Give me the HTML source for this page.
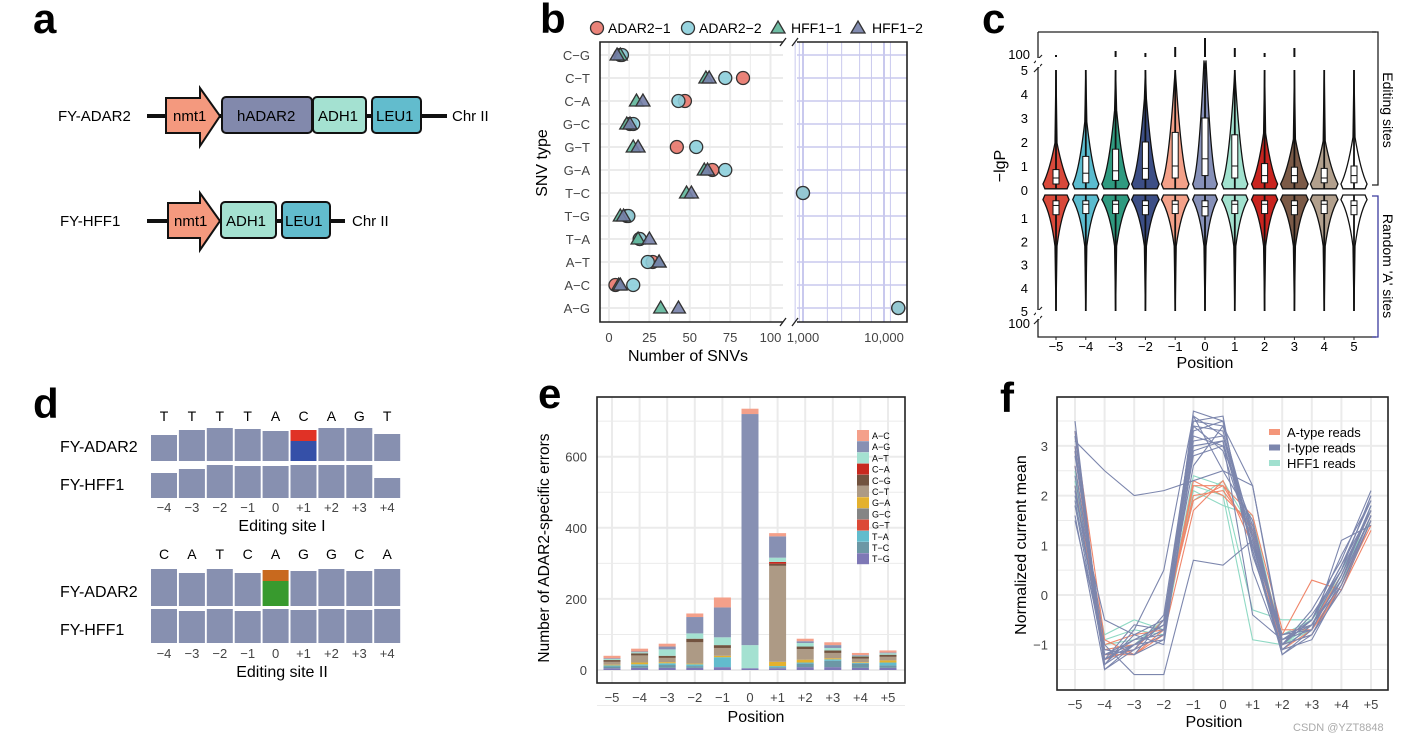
<!DOCTYPE html>
<html><head><meta charset="utf-8"><style>
html,body{margin:0;padding:0;background:#fff;}
svg{display:block;font-family:"Liberation Sans",Arial,sans-serif;}
</style></head><body>
<svg id="fig" width="1409" height="741" viewBox="0 0 1409 741" xmlns="http://www.w3.org/2000/svg">
<g>
<text x="33" y="33" font-size="42" font-weight="bold">a</text>
<text x="58" y="121" font-size="15">FY-ADAR2</text>
<line x1="147" y1="116" x2="447" y2="116" stroke="#111" stroke-width="4"/>
<polygon points="166,98 200,98 200,88 220,116 200,146 200,133 166,133" fill="#f4997e" stroke="#111" stroke-width="2"/>
<text x="173" y="121" font-size="15">nmt1</text>
<rect x="222" y="97" width="90" height="36" rx="4" fill="#8289ac" stroke="#111" stroke-width="2"/>
<text x="237" y="121" font-size="15">hADAR2</text>
<rect x="313" y="97" width="53" height="36" rx="4" fill="#a4e1d1" stroke="#111" stroke-width="2"/>
<text x="318" y="121" font-size="15">ADH1</text>
<rect x="372" y="97" width="49" height="36" rx="4" fill="#62bccd" stroke="#111" stroke-width="2"/>
<text x="376" y="121" font-size="15">LEU1</text>
<text x="452" y="121" font-size="15">Chr II</text>
<text x="60" y="226" font-size="15">FY-HFF1</text>
<line x1="147" y1="221" x2="345" y2="221" stroke="#111" stroke-width="4"/>
<polygon points="168,203 200,203 200,193 220,221 200,250 200,238 168,238" fill="#f4997e" stroke="#111" stroke-width="2"/>
<text x="174" y="226" font-size="15">nmt1</text>
<rect x="221" y="202" width="55" height="36" rx="4" fill="#a4e1d1" stroke="#111" stroke-width="2"/>
<text x="226" y="226" font-size="15">ADH1</text>
<rect x="282" y="202" width="48" height="36" rx="4" fill="#62bccd" stroke="#111" stroke-width="2"/>
<text x="285" y="226" font-size="15">LEU1</text>
<text x="352" y="226" font-size="15">Chr II</text>
</g>
<text x="33" y="418" font-size="42" font-weight="bold">d</text>
<text x="540" y="33" font-size="42" font-weight="bold">b</text>
<text x="982" y="33" font-size="42" font-weight="bold">c</text>
<text x="538" y="408" font-size="42" font-weight="bold">e</text>
<text x="1000" y="412" font-size="42" font-weight="bold">f</text>
</svg>
<script>
const svg=document.getElementById('fig');
const NS='http://www.w3.org/2000/svg';
function mk(tag,at,p){const e=document.createElementNS(NS,tag);for(const k in at)e.setAttribute(k,at[k]);(p||svg).appendChild(e);return e;}
function tx(x,y,s,fs,at,p){const e=mk('text',Object.assign({x:x,y:y,'font-size':fs},at||{}),p);e.textContent=s;return e;}

/* ===== panel d data ===== */
const dSite1Letters=['T','T','T','T','A','C','A','G','T'];
const dSite2Letters=['C','A','T','C','A','G','G','C','A'];
const dPositions=['−4','−3','−2','−1','0','+1','+2','+3','+4'];
const dSite1Adar=[26,31,33,32,30,31,33,33,27];
const dSite1Hff=[25,29,33,32,32,33,33,33,20];
const dSite2Adar=[37,33,37,33,36,35,37,35,37];
const dSite2Hff=[34,32,34,32,34,33,34,33,34];
(function(){
 const g=mk('g',{});
 
 
 const cx=i=>151+i*27.9;
 function row(vals,bottom,name,special){
  vals.forEach((v,i)=>{
   if(special&&special.i===i){
    const a=mk('rect',{x:cx(i),y:bottom-v,width:26,height:11,fill:special.c1},g);
    
    
    const b=mk('rect',{x:cx(i),y:bottom-v+11,width:26,height:v-11,fill:special.c2},g);
    
    
   }else{
    const r=mk('rect',{x:cx(i),y:bottom-v,width:26,height:v,fill:'#8790b0'},g);
    
    
   }
  });
 }
 function block(letters,adar,hff,yL,bA,bH,yT,title,sp){
  letters.forEach((l,i)=>{const t=tx(cx(i)+13,yL,l,14,{'text-anchor':'middle'},g);
   
   });
  row(adar,bA,'adar2-signal',sp);row(hff,bH,'hff1-signal',null);
  dPositions.forEach((p,i)=>{const t=tx(cx(i)+13,yT,p,13,{'text-anchor':'middle',fill:'#444'},g);
   
   });
  const a=tx(60,bA-9,'FY-ADAR2',16,{},g);
  
  
  const h=tx(60,bH-8,'FY-HFF1',16,{},g);
  
  
  const tt=tx(282,yT+19,title,16,{'text-anchor':'middle'},g);
  
  
 }
 block(dSite1Letters,dSite1Adar,dSite1Hff,421,461,498,512,'Editing site I',{i:5,c1:'#e03226',c2:'#3550a8'});
 block(dSite2Letters,dSite2Adar,dSite2Hff,559,606,643,658,'Editing site II',{i:4,c1:'#c8691e',c2:'#389a2e'});
})();

/* ===== panel b data ===== */
const bCategories=['C−G','C−T','C−A','G−C','G−T','G−A','T−C','T−G','T−A','A−T','A−C','A−G'];
const bAdar1=[7,83,47,13,42,64,1000,11,19,27,4,15000];
const bAdar2=[8,72,43,15,54,72,1000,12,19,24,15,15000];
const bHff1=[7,60,17,11,15,59,48,7,18,31,6,32];
const bHff2=[5,62,21,13,18,61,51,9,25,31,7,43];
const bTicksLin=[0,25,50,75,100];
const bTicksLog=[1000,10000];
(function(){
 const g=mk('g',{});
 
 
 const L0=600,L1=783,R0=797,R1=907,T=42,B=322;
 const xl=v=>609+v*1.615;
 const xr=v=>803+(Math.log10(v)-3)*81;
 const X=v=>v>100?xr(v):xl(v);
 const Y=i=>55+i*23;
 mk('rect',{x:L0,y:T,width:L1-L0,height:B-T,fill:'#fff'},g);
 for(let v=0;v<=100;v+=12.5){const l=mk('line',{x1:xl(v),x2:xl(v),y1:T,y2:B,stroke:'#ebebeb','stroke-width':v%25==0?2:1},g);
  
  }
 bCategories.forEach((c,i)=>{const l=mk('line',{x1:L0,x2:L1,y1:Y(i),y2:Y(i),stroke:'#ebebeb','stroke-width':2},g);
  
  
  const l2=mk('line',{x1:R0,x2:R1,y1:Y(i),y2:Y(i),stroke:'#c9c9ee','stroke-width':1.5},g);
  
  
  const t=tx(590,Y(i)+5,c,13,{'text-anchor':'end',fill:'#444'},g);
  
  });
 [800,900,1000,2000,3000,5000,7000,10000,12000].forEach(v=>{const l=mk('line',{x1:xr(v),x2:xr(v),y1:T,y2:B,stroke:'#c9c9ee','stroke-width':v==1000||v==10000?2:1},g);
  
  });
 const frame=mk('path',{d:`M${L1},${T} L${L0},${T} L${L0},${B} L${L1},${B} M${R0},${T} L${R1},${T} L${R1},${B} L${R0},${B}`,fill:'none',stroke:'#222','stroke-width':1.6},g);
 
 
 const brk=mk('path',{d:`M780,${T+4} l6,-8 M792,${T+4} l6,-8 M780,${B+4} l6,-8 M792,${B+4} l6,-8`,stroke:'#222','stroke-width':1.3},g);
 
 
 bTicksLin.forEach(v=>{const t=tx(xl(v),342,String(v),13,{'text-anchor':'middle',fill:'#444'},g);
  
  });
 bTicksLog.forEach(v=>{const t=tx(xr(v),342,v.toLocaleString('en-US'),13,{'text-anchor':'middle',fill:'#444'},g);
  
  });
 const xt=tx(688,361,'Number of SNVs',16,{'text-anchor':'middle'},g);
 
 
 const yt=tx(0,0,'SNV type',16,{'text-anchor':'middle',transform:'translate(547,163) rotate(-90)'},g);
 
 
 function circ(x,y,c,p){return mk('circle',{cx:x,cy:y,r:6.5,fill:c,stroke:'#333','stroke-width':1.3,'fill-opacity':0.9},p);}
 function tri(x,y,c,p){return mk('polygon',{points:`${x},${y-7} ${x+7},${y+5} ${x-7},${y+5}`,fill:c,stroke:'#333','stroke-width':1.3,'fill-opacity':0.9},p);}
 bCategories.forEach((c,i)=>{
  let e=circ(X(bAdar1[i]),Y(i),'#e8766a',g);
  
  
  e=circ(X(bAdar2[i]),Y(i),'#8ccfdc',g);
  
  
  e=tri(X(bHff1[i]),Y(i),'#5fb69a',g);
  
  
  e=tri(X(bHff2[i]),Y(i),'#7580a8',g);
  
  
 });
 let e=circ(597,28,'#e8766a',g);
 
 
 e=tx(608,33,'ADAR2−1',14,{},g);
 
 
 e=circ(688,28,'#8ccfdc',g);
 
 
 e=tx(699,33,'ADAR2−2',14,{},g);
 
 
 e=tri(778,28,'#5fb69a',g);
 
 
 e=tx(791,33,'HFF1−1',14,{},g);
 
 
 e=tri(858,28,'#7580a8',g);
 
 
 e=tx(872,33,'HFF1−2',14,{},g);
 
 
})();

/* ===== panel c data ===== */
const cPositions=['−5','−4','−3','−2','−1','0','1','2','3','4','5'];
const cColors=['#d9493a','#5bbccf','#2f9a80','#3c4e85','#f4a189','#8690b8','#a2e2cf','#c9241f','#7b5a47','#b2a08d','#ffffff'];
const cUpperMedian=[0.5,0.7,0.8,0.9,1.0,1.3,1.0,0.6,0.6,0.5,0.6];
const cUpperQ1=[0.25,0.3,0.4,0.45,0.5,0.6,0.5,0.3,0.3,0.3,0.3];
const cUpperQ3=[0.85,1.4,1.7,2.0,2.4,3.0,2.3,1.1,0.95,0.9,1.0];
const cUpperWidth=[0.9,0.9,0.95,0.95,0.95,0.85,0.9,0.9,0.95,0.95,0.9];
const cSpike=[2,0,6,4,10,19,9,4,9,0,0];
const cLowerQ1=[0.25,0.25,0.25,0.25,0.25,0.25,0.25,0.25,0.25,0.25,0.25];
const cLowerMedian=[0.45,0.4,0.4,0.45,0.4,0.5,0.4,0.4,0.45,0.4,0.45];
const cLowerQ3=[0.85,0.8,0.8,0.85,0.8,0.9,0.8,0.8,0.85,0.8,0.85];
(function(){
 const g=mk('g',{});
 
 
 const X=i=>1056+i*29.8;
 const YU=v=>190-v*24;
 const YL=v=>195+v*23.2;
 const fr=mk('path',{d:'M1038,32 L1038,337 L1376,337',fill:'none',stroke:'#222','stroke-width':1.3},g);
 
 
 const top=mk('line',{x1:1038,x2:1376,y1:32,y2:32,stroke:'#222','stroke-width':1.3},g);
 
 
 const brk=mk('path',{d:'M1034,63 l8,-8 M1034,72 l8,-8 M1034,315 l8,-8 M1034,324 l8,-8',stroke:'#222','stroke-width':1.2,fill:'none'},g);
 
 
 const bg1=mk('rect',{x:1036,y:58,width:4,height:9,fill:'#fff'},g);
 
 
 const bg2=mk('rect',{x:1036,y:310,width:4,height:9,fill:'#fff'},g);
 
 
 [0,1,2,3,4,5].forEach(v=>{let t=tx(1028,YU(v)+5,String(v),13,{'text-anchor':'end'},g);
  
  
  if(v>0){t=tx(1028,YL(v)+5,String(v),13,{'text-anchor':'end'},g);
  
  }});
 let t=tx(1030,59,'100',13,{'text-anchor':'end'},g);
 
 
 t=tx(1030,328,'100',13,{'text-anchor':'end'},g);
 
 
 t=tx(0,0,'−lgP',16,{'text-anchor':'middle',transform:'translate(1005,166) rotate(-90)'},g);
 
 
 cPositions.forEach((p,i)=>{
  const x=X(i),c=cColors[i];
  const tk=tx(x,351,p,13,{'text-anchor':'middle'},g);
  
  
  const tm=mk('line',{x1:x,x2:x,y1:337,y2:340,stroke:'#222'},g);
  
  
  const w=14.5*cUpperWidth[i], q3=cUpperQ3[i];
  const wTop=YU(q3*1.6+0.6);
  const d=`M${x},${YU(5)} L${x+1},${wTop} Q${x+w*0.5},${YU(0.8)} ${x+w},${YU(0.25)} L${x+w*0.85},${YU(0.05)} L${x-w*0.85},${YU(0.05)} L${x-w},${YU(0.25)} Q${x-w*0.5},${YU(0.8)} ${x-1},${wTop} Z`;
  const v=mk('path',{d:d,fill:c,stroke:'#111','stroke-width':1.3},g);
  
  
  const ln=mk('line',{x1:x,x2:x,y1:YU(5),y2:YU(0.05),stroke:'#111','stroke-width':1.8},g);
  
  
  const bx=mk('rect',{x:x-3,y:YU(cUpperQ3[i]),width:6,height:YU(cUpperQ1[i])-YU(cUpperQ3[i]),fill:'#fff',stroke:'#111','stroke-width':1},g);
  
  
  const md=mk('line',{x1:x-3,x2:x+3,y1:YU(cUpperMedian[i]),y2:YU(cUpperMedian[i]),stroke:'#111'},g);
  
  
  if(cSpike[i]>0){const sp=mk('line',{x1:x,x2:x,y1:57-cSpike[i]*1.0,y2:57,stroke:'#111','stroke-width':2},g);
   
   }
  const d2=`M${x-w*0.85},${YL(0)} L${x+w*0.85},${YL(0)} L${x+w},${YL(0.2)} Q${x+w*0.4},${YL(0.8)} ${x+1},${YL(2.2)} L${x},${YL(5)} L${x-1},${YL(2.2)} Q${x-w*0.4},${YL(0.8)} ${x-w},${YL(0.2)} Z`;
  const v2=mk('path',{d:d2,fill:c,stroke:'#111','stroke-width':1.3},g);
  
  
  const ln2=mk('line',{x1:x,x2:x,y1:YL(0),y2:YL(5),stroke:'#111','stroke-width':1.8},g);
  
  
  const bx2=mk('rect',{x:x-3,y:YL(cLowerQ1[i]),width:6,height:YL(cLowerQ3[i])-YL(cLowerQ1[i]),fill:'#fff',stroke:'#111','stroke-width':1},g);
  
  
  const md2=mk('line',{x1:x-3,x2:x+3,y1:YL(cLowerMedian[i]),y2:YL(cLowerMedian[i]),stroke:'#111'},g);
  
  
 });
 t=tx(1205,368,'Position',16,{'text-anchor':'middle'},g);
 
 
 let b=mk('path',{d:'M1372,32 L1378,32 L1378,185 L1372,185',fill:'none',stroke:'#222','stroke-width':1.3},g);
 
 
 b=mk('path',{d:'M1372,196 L1378,196 L1378,337 L1372,337',fill:'none',stroke:'#3b3b9e','stroke-width':1.3},g);
 
 
 t=tx(0,0,'Editing sites',14,{'text-anchor':'middle',transform:'translate(1383,110) rotate(90)'},g);
 
 
 t=tx(0,0,"Random 'A' sites",14,{'text-anchor':'middle',transform:'translate(1383,266) rotate(90)'},g);
 
 
})();

/* ===== panel e data ===== */
const ePositions=['−5','−4','−3','−2','−1','0','+1','+2','+3','+4','+5'];
const eTypes=['A−C','A−G','A−T','C−A','C−G','C−T','G−A','G−C','G−T','T−A','T−C','T−G'];
const eColors=['#f4a08a','#8790b3','#a4e1d1','#c8291f','#72533f','#ad9a85','#e4b12e','#858585','#dc4a37','#62bccd','#6c97a5','#7e78b6'];
const eAC=[7,8,8,10,28,15,9,7,8,6,6];
const eAG=[2,2,8,46,84,650,60,5,8,2,2];
const eAT=[3,3,18,15,22,65,12,10,7,2,4];
const eCA=[0,0,0,0,0,0,5,0,0,0,0];
const eCG=[5,6,6,10,8,0,6,7,7,6,6];
const eCT=[8,20,12,60,22,0,270,30,15,10,10];
const eGA=[2,5,3,2,4,0,12,8,3,2,6];
const eGC=[0,0,0,0,0,0,0,0,0,0,0];
const eGT=[0,0,0,0,0,0,0,0,0,0,0];
const eTA=[3,4,5,5,28,0,3,3,4,2,8];
const eTC=[5,6,8,5,0,0,3,10,18,12,7];
const eTG=[5,6,6,6,8,5,5,8,8,6,6];
const eTicks=[0,200,400,600];
(function(){
 const series=[eAC,eAG,eAT,eCA,eCG,eCT,eGA,eGC,eGT,eTA,eTC,eTG];
 const g=mk('g',{});
 
 
 const X=i=>612+i*27.6, Y=v=>670-v*0.3555;
 for(let v=-100;v<=700;v+=100){const l=mk('line',{x1:597,x2:905,y1:Y(v),y2:Y(v),stroke:'#ebebeb','stroke-width':v%200==0?2:1},g);
  
  }
 ePositions.forEach((p,i)=>{const l=mk('line',{x1:X(i),x2:X(i),y1:397,y2:683,stroke:'#ebebeb','stroke-width':2},g);
  
  
  const t=tx(X(i),702,p,13,{'text-anchor':'middle',fill:'#444'},g);
  
  });
 ePositions.forEach((p,i)=>{
  let base=0;
  for(let k=series.length-1;k>=0;k--){
   const v=series[k][i]; if(!v) continue;
   const r=mk('rect',{x:X(i)-8.5,y:Y(base+v),width:17,height:Y(base)-Y(base+v),fill:eColors[k]},g);
   
   
   base+=v;
  }
 });
 const fr=mk('rect',{x:597,y:397,width:308,height:286,fill:'none',stroke:'#222','stroke-width':1.6},g);
 
 
 eTicks.forEach(v=>{const t=tx(587,Y(v)+5,String(v),13,{'text-anchor':'end',fill:'#444'},g);
  
  });
 let t=tx(756,722,'Position',16,{'text-anchor':'middle'},g);
 
 
 t=tx(0,0,'Number of ADAR2-specific errors',15.5,{'text-anchor':'middle',transform:'translate(549,548) rotate(-90)'},g);
 
 
 eTypes.forEach((ty,k)=>{const r=mk('rect',{x:857,y:430+k*11.2,width:12,height:11,fill:eColors[k]},g);
  
  
  const tt=tx(872,439+k*11.2,ty,9,{},g);
  
  });
})();

/* ===== panel f data ===== */
const fPositions=['−5','−4','−3','−2','−1','0','+1','+2','+3','+4','+5'];
const fTicks=[-1,0,1,2,3];
const fItype=[
[3.5,-1.5,-1.0,-0.7,3.5,3.4,1.2,-1.0,-0.5,0.5,2.0],
[3.0,-1.3,-0.9,-0.6,3.6,3.2,1.0,-1.1,-0.6,0.3,1.8],
[2.6,-1.2,-1.1,-0.8,3.3,3.5,0.8,-0.9,-0.7,0.4,1.7],
[2.2,-1.4,-0.8,-0.5,3.2,3.0,1.4,-1.0,-0.5,0.6,1.9],
[1.8,-1.3,-1.0,-0.7,3.4,3.3,1.1,-0.8,-0.6,0.2,1.6],
[1.5,-1.1,-1.2,-0.9,3.0,3.1,0.9,-1.2,-0.8,0.1,1.5],
[3.1,2.5,2.0,2.1,2.3,2.5,2.2,-1.0,-0.4,0.5,2.0],
[2.8,-1.0,-1.6,-1.6,0.7,0.6,1.1,-1.2,-0.7,1.1,1.4],
[2.0,-0.5,-0.8,-1.0,2.9,3.1,-0.4,-0.9,-0.5,0.6,1.7],
[3.3,-1.4,-0.7,0.5,3.6,2.5,1.5,-1.0,-0.3,0.7,2.1],
[2.4,-1.2,-1.0,-0.6,2.6,3.4,2.2,-0.9,-0.6,0.3,1.6],
[1.6,-1.5,-1.1,-0.4,3.5,3.6,0.5,-1.1,-0.9,0.2,1.5],
[2.9,-1.3,-0.6,-0.7,3.1,3.2,1.3,-1.0,-0.5,0.8,1.9],
[2.1,-1.2,-0.9,-0.8,3.4,2.9,1.0,-0.8,-0.7,0.4,1.8],
[3.2,-1.4,-1.0,-0.9,3.7,3.5,0.9,-1.1,-0.6,0.5,1.7],
[1.9,-1.1,-1.2,-0.5,2.8,3.0,1.2,-1.0,-0.8,0.3,1.6]];
const fAtype=[
[3.3,-0.9,-1.2,-0.7,2.2,2.2,1.6,-0.7,-0.7,0.1,1.3],
[2.9,-1.1,-1.0,-0.6,2.0,2.1,1.3,-1.0,-0.8,0.2,1.6],
[2.2,-1.2,-1.2,-0.8,1.7,2.3,1.0,-0.8,0.3,0.1,1.5],
[2.6,-1.0,-0.8,-0.7,2.3,2.0,1.4,-0.9,-0.6,0.4,1.7],
[3.0,-1.3,-1.1,-0.5,1.9,2.2,1.2,-1.1,-0.7,0.2,1.4]];
const fHff=[
[2.0,-0.8,-0.5,-0.7,2.4,2.2,-0.3,-0.5,-0.5,0.3,1.6],
[2.5,-1.0,-0.9,-0.6,2.1,1.8,1.6,-1.0,-0.7,0.2,1.8],
[1.8,-0.9,-0.7,-0.8,2.2,2.0,-0.9,-1.0,-0.6,0.5,1.5],
[2.3,-1.1,-1.0,-0.5,1.9,2.3,1.3,-0.8,-0.5,0.4,1.7]];
(function(){
 const g=mk('g',{});
 
 
 const X=i=>1075+i*29.6, Y=v=>595-v*49.7;
 for(let v=-1.5;v<=3.5;v+=0.5){const l=mk('line',{x1:1057,x2:1388,y1:Y(v),y2:Y(v),stroke:'#ebebeb','stroke-width':Number.isInteger(v)?2:1},g);
  
  }
 fPositions.forEach((p,i)=>{const l=mk('line',{x1:X(i),x2:X(i),y1:397,y2:690,stroke:'#ebebeb','stroke-width':2},g);
  
  
  const t=tx(X(i),709,p,13,{'text-anchor':'middle',fill:'#444'},g);
  
  });
 function draw(arr,col,name){arr.forEach(s=>{const l=mk('polyline',{points:s.map((v,i)=>X(i)+','+Y(v)).join(' '),fill:'none',stroke:col,'stroke-width':1.1},g);
  
  });}
 draw(fHff,'#8fd9c4','line-hff1-read');
 draw(fAtype,'#f0866a','line-a-type-read');
 draw(fItype,'#7c86ad','line-i-type-read');
 const fr=mk('rect',{x:1057,y:397,width:331,height:293,fill:'none',stroke:'#222','stroke-width':1.6},g);
 
 
 fTicks.forEach(v=>{const t=tx(1048,Y(v)+5,v<0?'−'+Math.abs(v):String(v),13,{'text-anchor':'end',fill:'#444'},g);
  
  });
 let t=tx(1214,727,'Position',16,{'text-anchor':'middle'},g);
 
 
 t=tx(0,0,'Normalized current mean',16,{'text-anchor':'middle',transform:'translate(1026,545) rotate(-90)'},g);
 
 
 [['A-type reads','#f4967a'],['I-type reads','#7c86ad'],['HFF1 reads','#a0e0cf']].forEach((e,k)=>{
  const r=mk('rect',{x:1269,y:429+k*15.5,width:11,height:6,fill:e[1]},g);
  
  
  const tt=tx(1287,437+k*15.5,e[0],13,{},g);
  
  });
 t=tx(1293,731,'CSDN @YZT8848',11,{fill:'#aaa'},g);
 
 
})();
</script>
</body></html>
